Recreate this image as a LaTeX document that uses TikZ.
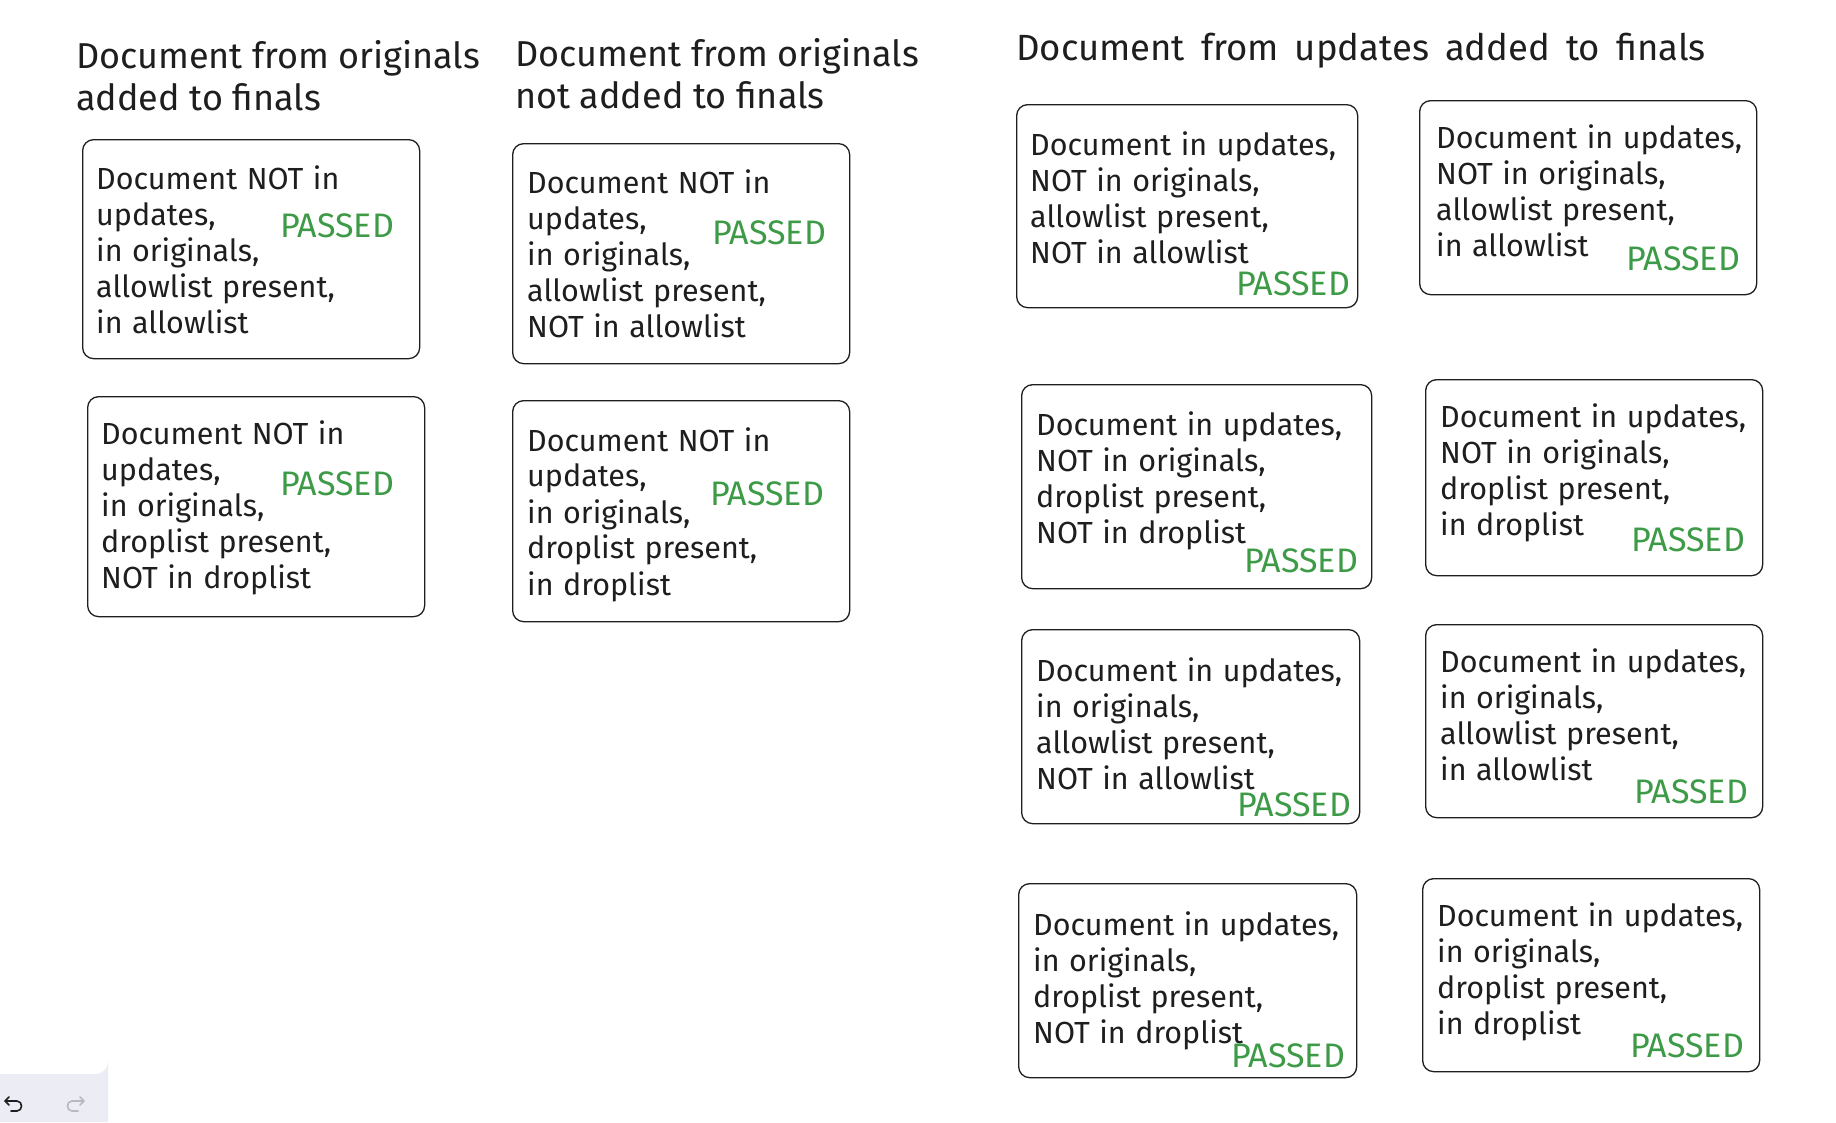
\documentclass[tikz,border=0pt]{standalone}
\usepackage{fontspec}
\setmainfont{Fira Sans}
\definecolor{ink}{HTML}{1E1E1E}
\definecolor{passgreen}{HTML}{3D9B47}
\definecolor{uibg}{HTML}{ECECF4}
\definecolor{uigray}{HTML}{B8B8C0}
\newcommand\myboxfont{\fontsize{30.5}{36}\selectfont\spaceskip 9.5pt plus 2pt minus 1pt\relax}
\newcommand\mytitlefont{\fontsize{36}{42}\selectfont}
\newcommand\mywidetitlefont{\fontsize{36.5}{42}\selectfont\spaceskip 16pt plus 2pt minus 1pt\relax}
\tikzset{
  docbox/.style={draw=ink, line width=1.3pt, rounded corners=11pt, inner sep=0pt, anchor=north west},
  doctext/.style={anchor=north west, inner sep=0pt, align=left, text=ink, font=\myboxfont},
  passtxt/.style={inner sep=0pt, text=passgreen, font=\fontsize{34}{36}\selectfont},
  title/.style={anchor=north west, inner sep=0pt, align=left, text=ink, font=\mytitlefont}
}
\begin{document}
\begin{tikzpicture}[x=1pt,y=-1pt]
\useasboundingbox (0,0) rectangle (1836,1122);
\fill[white] (0,0) rectangle (1836,1122);
% titles
\node[title] (h1) at (76,40) {Document from originals\\added to finals};
\node[title] (h2) at (515,38) {Document from originals\\not added to finals};
\node[title, font=\mywidetitlefont] (h3) at (1016,33) {Document from updates added to finals};
% left column
\node[docbox, minimum width=337pt, minimum height=219pt] (b1) at (82,139) {};
\node[doctext] (t1) at (96,166) {Document NOT in\\updates,\\in originals,\\allowlist present,\\in allowlist};
\node[passtxt] (p1) at (337,226) {PASSED};
\node[docbox, minimum width=337pt, minimum height=220pt] (b2) at (87,396) {};
\node[doctext] (t2) at (101,421) {Document NOT in\\updates,\\in originals,\\droplist present,\\NOT in droplist};
\node[passtxt] (p2) at (337,484) {PASSED};
% middle column
\node[docbox, minimum width=337pt, minimum height=220pt] (b3) at (512,143) {};
\node[doctext] (t3) at (527,170) {Document NOT in\\updates,\\in originals,\\allowlist present,\\NOT in allowlist};
\node[passtxt] (p3) at (769,233) {PASSED};
\node[docbox, minimum width=337pt, minimum height=221pt] (b4) at (512,400) {};
\node[doctext] (t4) at (527,427) {Document NOT in\\updates,\\in originals,\\droplist present,\\in droplist};
\node[passtxt] (p4) at (767,494) {PASSED};
% right block
\node[docbox, minimum width=341pt, minimum height=203pt] (b5) at (1016,104) {};
\node[doctext] (t5) at (1030,132) {Document in updates,\\NOT in originals,\\allowlist present,\\NOT in allowlist};
\node[passtxt] (p5) at (1293,284) {PASSED};
\node[docbox, minimum width=337pt, minimum height=194pt] (b6) at (1419,100) {};
\node[doctext] (t6) at (1436,125) {Document in updates,\\NOT in originals,\\allowlist present,\\in allowlist};
\node[passtxt] (p6) at (1683,259) {PASSED};
\node[docbox, minimum width=350pt, minimum height=204pt] (b7) at (1021,384) {};
\node[doctext] (t7) at (1036,412) {Document in updates,\\NOT in originals,\\droplist present,\\NOT in droplist};
\node[passtxt] (p7) at (1301,561) {PASSED};
\node[docbox, minimum width=337pt, minimum height=196pt] (b8) at (1425,379) {};
\node[doctext] (t8) at (1440,404) {Document in updates,\\NOT in originals,\\droplist present,\\in droplist};
\node[passtxt] (p8) at (1688,540) {PASSED};
\node[docbox, minimum width=338pt, minimum height=194pt] (b9) at (1021,629) {};
\node[doctext] (t9) at (1036,657) {Document in updates,\\in originals,\\allowlist present,\\NOT in allowlist};
\node[passtxt] (p9) at (1294,805) {PASSED};
\node[docbox, minimum width=337pt, minimum height=193pt] (b10) at (1425,624) {};
\node[doctext] (t10) at (1440,648) {Document in updates,\\in originals,\\allowlist present,\\in allowlist};
\node[passtxt] (p10) at (1691,792) {PASSED};
\node[docbox, minimum width=338pt, minimum height=194pt] (b11) at (1018,883) {};
\node[doctext] (t11) at (1033,911) {Document in updates,\\in originals,\\droplist present,\\NOT in droplist};
\node[passtxt] (p11) at (1288,1056) {PASSED};
\node[docbox, minimum width=337pt, minimum height=193pt] (b12) at (1422,878) {};
\node[doctext] (t12) at (1437,902) {Document in updates,\\in originals,\\droplist present,\\in droplist};
\node[passtxt] (p12) at (1687,1046) {PASSED};
% undo / redo panel
\fill[uibg] (0,1074) -- (96,1074) arc[start angle=90, end angle=0, radius=12] -- (108,1122) -- (0,1122) -- cycle;
\draw[ink, line width=1.6pt, line cap=round, line join=round]
  (9,1097) -- (5,1101) -- (9,1105)
  (5,1101) -- (17,1101) .. controls (23,1101) and (23,1111) .. (17,1111) -- (11,1111);
\draw[uigray, line width=1.6pt, line cap=round, line join=round]
  (80,1097) -- (84,1101) -- (80,1105)
  (84,1101) -- (72,1101) .. controls (66,1101) and (66,1111) .. (72,1111) -- (78,1111);
\end{tikzpicture}
\end{document}
